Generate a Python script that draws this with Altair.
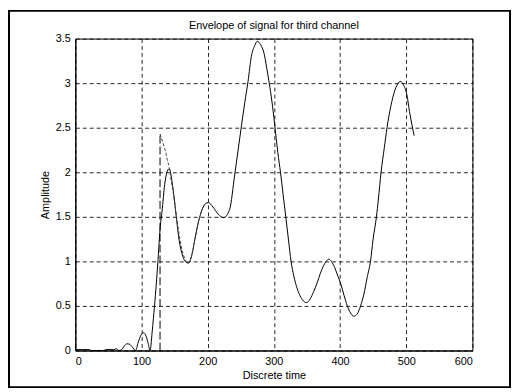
import altair as alt
import pandas as pd

# ---- data ----
sig_x = [0, 21, 24, 43, 46, 58, 62, 66, 70, 74, 78, 82, 86, 91, 95, 99, 103, 107, 110, 113,
         116, 118, 121, 125, 128, 131, 135, 138, 142, 146, 150, 153, 157, 161, 166, 171, 176,
         181, 186, 191, 197, 201, 208, 216, 224, 233, 241, 246, 251, 256, 261, 266, 271, 275,
         280, 285, 289, 293, 297, 301, 306, 310, 314, 318, 322, 326, 330, 333, 338, 343, 349,
         355, 360, 365, 370, 375, 379, 383, 387, 392, 397, 401, 406, 411, 416, 421, 426, 431,
         436, 441, 446, 450, 455, 458, 462, 467, 471, 477, 482, 487, 491, 496, 501, 505, 509, 512]
sig_y = [0.01, 0.01, 0.0, 0.0, 0.01, 0.01, 0.02, 0.0, 0.01, 0.05, 0.075, 0.07, 0.04, 0.0, 0.09,
         0.17, 0.2, 0.16, 0.08, 0.0, 0.2, 0.36, 0.62, 1.02, 1.36, 1.56, 1.86, 1.99, 2.04, 1.9,
         1.67, 1.47, 1.23, 1.09, 1.0, 0.98, 1.07, 1.26, 1.44, 1.57, 1.65, 1.66, 1.61, 1.53, 1.49,
         1.58, 1.98, 2.25, 2.52, 2.78, 3.02, 3.3, 3.42, 3.47, 3.43, 3.34, 3.18, 3.0, 2.8, 2.55,
         2.22, 2.0, 1.75, 1.5, 1.25, 1.0, 0.84, 0.75, 0.64, 0.57, 0.537, 0.58, 0.66, 0.75, 0.86,
         0.95, 1.0, 1.025, 1.0, 0.93, 0.83, 0.75, 0.62, 0.5, 0.42, 0.385, 0.41, 0.5, 0.63, 0.82,
         1.0, 1.25, 1.5, 1.7, 2.0, 2.28, 2.5, 2.75, 2.9, 2.99, 3.02, 2.98, 2.87, 2.68, 2.52, 2.41]

env_x = [128, 132, 136, 139, 142, 145, 148, 153, 158, 163, 168, 171, 176, 181, 186, 191, 197, 201]
env_y = [2.43, 2.34, 2.24, 2.14, 2.05, 1.9, 1.77, 1.5, 1.25, 1.08, 0.995, 0.98, 1.07, 1.26,
         1.44, 1.57, 1.65, 1.66]
jump_x = [128]
jump_lo = [0.0]
jump_hi = [2.43]

x_ticks = [0, 100, 200, 300, 400, 500, 600]
y_ticks = [0, 0.5, 1, 1.5, 2, 2.5, 3, 3.5]

TITLE = "Envelope of signal for third channel"
X_TITLE = "Discrete time"
Y_TITLE = "Amplitude"
FONT = "Liberation Sans"

W, H = 401, 315
PAD = {"left": 68, "top": 29, "right": 39, "bottom": 38}

sig = pd.DataFrame({"t": sig_x, "a": sig_y})
env = pd.DataFrame({"t": env_x, "a": env_y})
jump = pd.DataFrame({"t": jump_x, "lo": jump_lo, "hi": jump_hi})

xs = alt.Scale(domain=[0, 600], nice=False, zero=False)
ys = alt.Scale(domain=[0, 3.5], nice=False)

x_axis = alt.Axis(values=x_ticks, title=X_TITLE, format="d", grid=True,
                  gridDash=[4, 3], gridColor="black", gridOpacity=0.85, ticks=False,
                  domainColor="black", labelFont=FONT, labelFontSize=11,
                  labelColor="black", labelPadding=5, titleFont=FONT,
                  titleFontSize=11, titleFontWeight="normal", titleColor="black",
                  titlePadding=3)
y_axis = alt.Axis(values=y_ticks, title=Y_TITLE, format="~g", grid=True,
                  gridDash=[4, 3], gridColor="black", gridOpacity=0.85, ticks=False,
                  domainColor="black", labelFont=FONT, labelFontSize=11,
                  labelColor="black", labelPadding=5, titleFont=FONT,
                  titleFontSize=11, titleFontWeight="normal", titleColor="black",
                  titlePadding=5)

signal = alt.Chart(sig).mark_line(color="black", strokeWidth=1, interpolate="monotone").encode(
    x=alt.X("t:Q", scale=xs, axis=x_axis),
    y=alt.Y("a:Q", scale=ys, axis=y_axis),
)

envelope = alt.Chart(env).mark_line(color="#444444", strokeWidth=1, strokeDash=[3, 2],
                                    interpolate="monotone").encode(
    x=alt.X("t:Q", scale=xs),
    y=alt.Y("a:Q", scale=ys),
)

rise = alt.Chart(jump).mark_rule(color="black", strokeWidth=1, strokeDash=[8, 3]).encode(
    x=alt.X("t:Q", scale=xs),
    y=alt.Y("lo:Q", scale=ys),
    y2="hi:Q",
)

frame = alt.Chart(pd.DataFrame({"k": [0]})).mark_rect(
    fillOpacity=0, stroke="black", strokeWidth=2
).encode(
    x=alt.value(-PAD["left"] + 1),
    x2=alt.value(W + PAD["right"] - 1),
    y=alt.value(-PAD["top"] + 1),
    y2=alt.value(H + PAD["bottom"] - 1),
)

title = alt.Chart(pd.DataFrame({"txt": [TITLE]})).mark_text(
    font=FONT, fontSize=11, color="black", align="center", baseline="middle"
).encode(
    text="txt:N",
    x=alt.value(W / 2),
    y=alt.value(-13),
)

chart = alt.layer(signal, envelope, rise, frame, title).properties(
    width=W,
    height=H,
    autosize="none",
    padding=PAD,
    background="white",
).configure_view(stroke="black", strokeWidth=1)

chart.save("out.html", embed_options={"renderer": "svg", "actions": False})
